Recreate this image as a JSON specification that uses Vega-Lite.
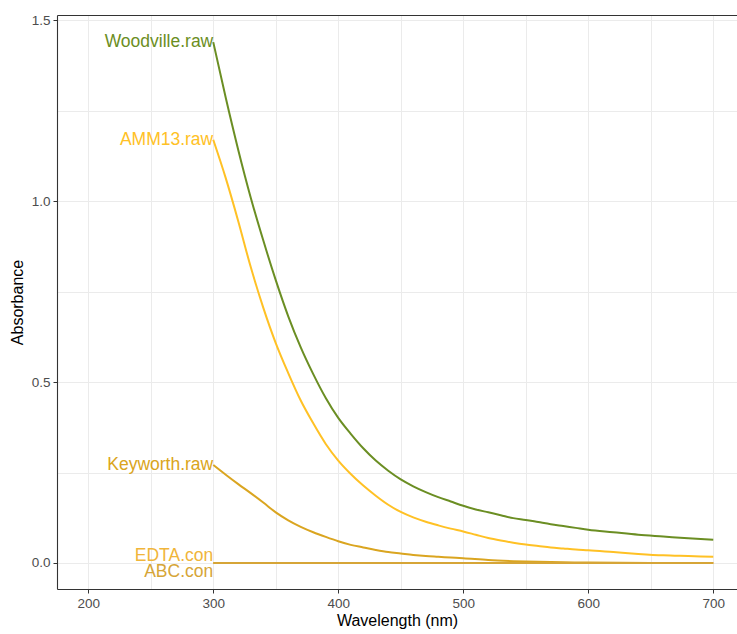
{
  "$schema": "https://vega.github.io/schema/vega-lite/v6.json",
  "autosize": {"type": "none"},
  "padding": {"left": 57, "top": 15, "right": 0, "bottom": 45},
  "width": 680,
  "height": 574,
  "background": "white",
  "config": {
    "view": {"stroke": null},
    "font": "Liberation Sans",
    "axis": {
      "gridColor": "#EBEBEB",
      "gridWidth": 1,
      "domainColor": "#333333",
      "domainWidth": 1.1,
      "tickColor": "#333333",
      "tickSize": 4,
      "labelColor": "#4D4D4D",
      "labelFontSize": 13.5,
      "labelFont": "Liberation Sans",
      "titleFont": "Liberation Sans",
      "titleFontSize": 16,
      "titleFontWeight": "normal",
      "titleColor": "#000000"
    }
  },
  "data": {
    "values": [
      {"series": "Woodville.raw", "wavelength": 300, "absorbance": 1.44},
      {"series": "Woodville.raw", "wavelength": 310, "absorbance": 1.286},
      {"series": "Woodville.raw", "wavelength": 320, "absorbance": 1.142},
      {"series": "Woodville.raw", "wavelength": 330, "absorbance": 1.01},
      {"series": "Woodville.raw", "wavelength": 340, "absorbance": 0.892},
      {"series": "Woodville.raw", "wavelength": 350, "absorbance": 0.782},
      {"series": "Woodville.raw", "wavelength": 360, "absorbance": 0.682},
      {"series": "Woodville.raw", "wavelength": 370, "absorbance": 0.596},
      {"series": "Woodville.raw", "wavelength": 380, "absorbance": 0.522},
      {"series": "Woodville.raw", "wavelength": 390, "absorbance": 0.456},
      {"series": "Woodville.raw", "wavelength": 400, "absorbance": 0.401},
      {"series": "Woodville.raw", "wavelength": 410, "absorbance": 0.357},
      {"series": "Woodville.raw", "wavelength": 420, "absorbance": 0.317},
      {"series": "Woodville.raw", "wavelength": 430, "absorbance": 0.283},
      {"series": "Woodville.raw", "wavelength": 440, "absorbance": 0.255},
      {"series": "Woodville.raw", "wavelength": 450, "absorbance": 0.231},
      {"series": "Woodville.raw", "wavelength": 460, "absorbance": 0.212},
      {"series": "Woodville.raw", "wavelength": 470, "absorbance": 0.196},
      {"series": "Woodville.raw", "wavelength": 480, "absorbance": 0.182},
      {"series": "Woodville.raw", "wavelength": 490, "absorbance": 0.17},
      {"series": "Woodville.raw", "wavelength": 500, "absorbance": 0.158},
      {"series": "Woodville.raw", "wavelength": 510, "absorbance": 0.148},
      {"series": "Woodville.raw", "wavelength": 520, "absorbance": 0.14},
      {"series": "Woodville.raw", "wavelength": 530, "absorbance": 0.132},
      {"series": "Woodville.raw", "wavelength": 540, "absorbance": 0.124},
      {"series": "Woodville.raw", "wavelength": 550, "absorbance": 0.119},
      {"series": "Woodville.raw", "wavelength": 560, "absorbance": 0.113},
      {"series": "Woodville.raw", "wavelength": 570, "absorbance": 0.107},
      {"series": "Woodville.raw", "wavelength": 580, "absorbance": 0.102},
      {"series": "Woodville.raw", "wavelength": 590, "absorbance": 0.097},
      {"series": "Woodville.raw", "wavelength": 600, "absorbance": 0.092},
      {"series": "Woodville.raw", "wavelength": 620, "absorbance": 0.085},
      {"series": "Woodville.raw", "wavelength": 640, "absorbance": 0.078},
      {"series": "Woodville.raw", "wavelength": 660, "absorbance": 0.073},
      {"series": "Woodville.raw", "wavelength": 680, "absorbance": 0.068},
      {"series": "Woodville.raw", "wavelength": 700, "absorbance": 0.064},
      {"series": "AMM13.raw", "wavelength": 300, "absorbance": 1.17},
      {"series": "AMM13.raw", "wavelength": 310, "absorbance": 1.064},
      {"series": "AMM13.raw", "wavelength": 320, "absorbance": 0.945},
      {"series": "AMM13.raw", "wavelength": 330, "absorbance": 0.818},
      {"series": "AMM13.raw", "wavelength": 340, "absorbance": 0.706},
      {"series": "AMM13.raw", "wavelength": 350, "absorbance": 0.608},
      {"series": "AMM13.raw", "wavelength": 360, "absorbance": 0.525},
      {"series": "AMM13.raw", "wavelength": 370, "absorbance": 0.449},
      {"series": "AMM13.raw", "wavelength": 380, "absorbance": 0.386},
      {"series": "AMM13.raw", "wavelength": 390, "absorbance": 0.329},
      {"series": "AMM13.raw", "wavelength": 400, "absorbance": 0.283},
      {"series": "AMM13.raw", "wavelength": 410, "absorbance": 0.246},
      {"series": "AMM13.raw", "wavelength": 420, "absorbance": 0.214},
      {"series": "AMM13.raw", "wavelength": 430, "absorbance": 0.186},
      {"series": "AMM13.raw", "wavelength": 440, "absorbance": 0.161},
      {"series": "AMM13.raw", "wavelength": 450, "absorbance": 0.141},
      {"series": "AMM13.raw", "wavelength": 460, "absorbance": 0.126},
      {"series": "AMM13.raw", "wavelength": 470, "absorbance": 0.114},
      {"series": "AMM13.raw", "wavelength": 480, "absorbance": 0.104},
      {"series": "AMM13.raw", "wavelength": 490, "absorbance": 0.095},
      {"series": "AMM13.raw", "wavelength": 500, "absorbance": 0.087},
      {"series": "AMM13.raw", "wavelength": 510, "absorbance": 0.078},
      {"series": "AMM13.raw", "wavelength": 520, "absorbance": 0.069},
      {"series": "AMM13.raw", "wavelength": 530, "absorbance": 0.062},
      {"series": "AMM13.raw", "wavelength": 540, "absorbance": 0.056},
      {"series": "AMM13.raw", "wavelength": 550, "absorbance": 0.051},
      {"series": "AMM13.raw", "wavelength": 560, "absorbance": 0.047},
      {"series": "AMM13.raw", "wavelength": 570, "absorbance": 0.043},
      {"series": "AMM13.raw", "wavelength": 580, "absorbance": 0.04},
      {"series": "AMM13.raw", "wavelength": 590, "absorbance": 0.037},
      {"series": "AMM13.raw", "wavelength": 600, "absorbance": 0.035},
      {"series": "AMM13.raw", "wavelength": 620, "absorbance": 0.03},
      {"series": "AMM13.raw", "wavelength": 640, "absorbance": 0.025},
      {"series": "AMM13.raw", "wavelength": 660, "absorbance": 0.021},
      {"series": "AMM13.raw", "wavelength": 680, "absorbance": 0.019},
      {"series": "AMM13.raw", "wavelength": 700, "absorbance": 0.017},
      {"series": "Keyworth.raw", "wavelength": 300, "absorbance": 0.271},
      {"series": "Keyworth.raw", "wavelength": 310, "absorbance": 0.244},
      {"series": "Keyworth.raw", "wavelength": 320, "absorbance": 0.218},
      {"series": "Keyworth.raw", "wavelength": 330, "absorbance": 0.193},
      {"series": "Keyworth.raw", "wavelength": 340, "absorbance": 0.167},
      {"series": "Keyworth.raw", "wavelength": 350, "absorbance": 0.14},
      {"series": "Keyworth.raw", "wavelength": 360, "absorbance": 0.118},
      {"series": "Keyworth.raw", "wavelength": 370, "absorbance": 0.1},
      {"series": "Keyworth.raw", "wavelength": 380, "absorbance": 0.085},
      {"series": "Keyworth.raw", "wavelength": 390, "absorbance": 0.072},
      {"series": "Keyworth.raw", "wavelength": 400, "absorbance": 0.06},
      {"series": "Keyworth.raw", "wavelength": 410, "absorbance": 0.05},
      {"series": "Keyworth.raw", "wavelength": 420, "absorbance": 0.043},
      {"series": "Keyworth.raw", "wavelength": 430, "absorbance": 0.036},
      {"series": "Keyworth.raw", "wavelength": 440, "absorbance": 0.03},
      {"series": "Keyworth.raw", "wavelength": 450, "absorbance": 0.026},
      {"series": "Keyworth.raw", "wavelength": 460, "absorbance": 0.022},
      {"series": "Keyworth.raw", "wavelength": 470, "absorbance": 0.019},
      {"series": "Keyworth.raw", "wavelength": 480, "absorbance": 0.017},
      {"series": "Keyworth.raw", "wavelength": 490, "absorbance": 0.015},
      {"series": "Keyworth.raw", "wavelength": 500, "absorbance": 0.013},
      {"series": "Keyworth.raw", "wavelength": 520, "absorbance": 0.008},
      {"series": "Keyworth.raw", "wavelength": 540, "absorbance": 0.005},
      {"series": "Keyworth.raw", "wavelength": 560, "absorbance": 0.003},
      {"series": "Keyworth.raw", "wavelength": 580, "absorbance": 0.002},
      {"series": "Keyworth.raw", "wavelength": 600, "absorbance": 0.001},
      {"series": "Keyworth.raw", "wavelength": 650, "absorbance": 0.0},
      {"series": "Keyworth.raw", "wavelength": 700, "absorbance": 0.0},
      {"series": "EDTA.con", "wavelength": 300, "absorbance": 0.0},
      {"series": "EDTA.con", "wavelength": 400, "absorbance": 0.0},
      {"series": "EDTA.con", "wavelength": 500, "absorbance": 0.0},
      {"series": "EDTA.con", "wavelength": 600, "absorbance": 0.0},
      {"series": "EDTA.con", "wavelength": 700, "absorbance": 0.0},
      {"series": "ABC.con", "wavelength": 300, "absorbance": 0.0},
      {"series": "ABC.con", "wavelength": 400, "absorbance": 0.0},
      {"series": "ABC.con", "wavelength": 500, "absorbance": 0.0},
      {"series": "ABC.con", "wavelength": 600, "absorbance": 0.0},
      {"series": "ABC.con", "wavelength": 700, "absorbance": 0.0}
    ]
  },
  "resolve": {"axis": {"x": "independent"}},
  "layer": [
    {
      "mark": {"type": "line", "strokeWidth": 2, "interpolate": "monotone"},
      "encoding": {
        "x": {
          "field": "wavelength", "type": "quantitative",
          "scale": {"domain": [175, 719], "nice": false, "zero": false},
          "axis": {
            "title": "Wavelength (nm)",
            "values": [200, 250, 300, 350, 400, 450, 500, 550, 600, 650, 700],
            "labelExpr": "datum.value % 100 === 0 ? datum.label : ''",
            "tickOpacity": {"condition": {"test": "datum.value % 100 !== 0", "value": 0}, "value": 1},
            "labelPadding": 3,
            "titlePadding": 3
          }
        },
        "y": {
          "field": "absorbance", "type": "quantitative",
          "scale": {"domain": [-0.072, 1.515], "nice": false, "zero": false},
          "axis": {
            "title": "Absorbance",
            "values": [0, 0.25, 0.5, 0.75, 1, 1.25, 1.5],
            "format": ".1f",
            "labelExpr": "(datum.value * 4) % 2 === 0 ? datum.label : ''",
            "tickOpacity": {"condition": {"test": "(datum.value * 4) % 2 !== 0", "value": 0}, "value": 1},
            "labelPadding": 3,
            "titlePadding": 6
          }
        },
        "color": {
          "field": "series", "type": "nominal",
          "scale": {
            "domain": ["Woodville.raw", "AMM13.raw", "Keyworth.raw", "EDTA.con", "ABC.con"],
            "range": ["#6B8E23", "#FFC125", "#DAA520", "#F0B53A", "#D6A537"]
          },
          "legend": null
        },
        "detail": {"field": "series"},
        "order": {"field": "wavelength"}
      }
    },
    {
      "transform": [{"filter": "datum.wavelength === 300 && (datum.series === 'Woodville.raw' || datum.series === 'AMM13.raw' || datum.series === 'Keyworth.raw')"}],
      "mark": {"type": "text", "align": "right", "baseline": "middle", "fontSize": 17.5, "font": "Liberation Sans"},
      "encoding": {
        "text": {"field": "series"},
        "x": {"field": "wavelength", "type": "quantitative", "axis": {"orient": "top", "title": null, "labels": false, "ticks": false, "grid": false, "domain": true, "domainColor": "#333333", "domainWidth": 1.1}},
        "y": {"field": "absorbance", "type": "quantitative"},
        "color": {"field": "series", "type": "nominal", "legend": null}
      }
    },
    {
      "transform": [{"filter": "datum.wavelength === 300 && datum.series === 'EDTA.con'"}],
      "mark": {"type": "text", "align": "right", "baseline": "middle", "fontSize": 17.5, "dy": -7, "font": "Liberation Sans"},
      "encoding": {
        "text": {"field": "series"},
        "x": {"field": "wavelength", "type": "quantitative", "axis": null},
        "y": {"field": "absorbance", "type": "quantitative"},
        "color": {"field": "series", "type": "nominal", "legend": null}
      }
    },
    {
      "transform": [{"filter": "datum.wavelength === 300 && datum.series === 'ABC.con'"}],
      "mark": {"type": "text", "align": "right", "baseline": "middle", "fontSize": 17.5, "dy": 9.5, "font": "Liberation Sans"},
      "encoding": {
        "text": {"field": "series"},
        "x": {"field": "wavelength", "type": "quantitative", "axis": null},
        "y": {"field": "absorbance", "type": "quantitative"},
        "color": {"field": "series", "type": "nominal", "legend": null}
      }
    }
  ]
}
